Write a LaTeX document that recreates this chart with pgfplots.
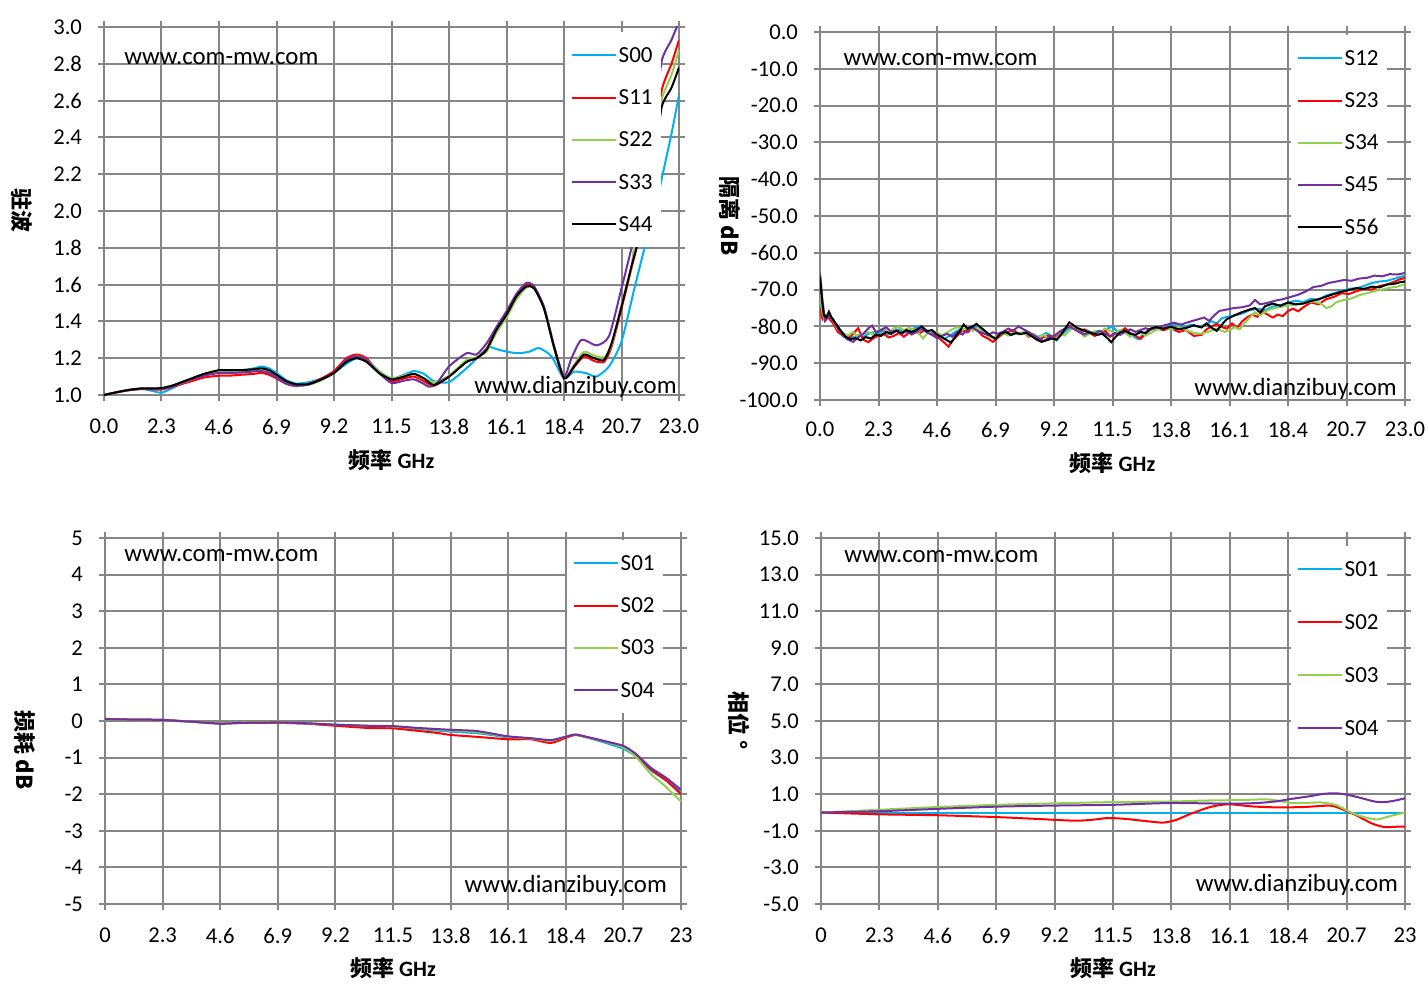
\documentclass[border=0pt]{standalone}
\usepackage{pgfplots}
\pgfplotsset{compat=1.18}
\usepackage{fontspec}
\setmainfont{Carlito}
\newfontfamily\cjk{Noto Sans CJK SC}
\definecolor{gridgray}{RGB}{134,134,134}
\definecolor{cS0}{RGB}{0,176,240}
\definecolor{cS1}{RGB}{255,0,0}
\definecolor{cS2}{RGB}{146,208,80}
\definecolor{cS3}{RGB}{112,48,160}
\pgfplotsset{
  myax/.style={
    scale only axis, anchor=south west,
    xmin=0, xmax=23,
    xtick={0,2.3,4.6,6.9,9.2,11.5,13.8,16.1,18.4,20.7,23},
    grid=major,
    major grid style={gridgray, line width=1pt},
    axis line style={gridgray, line width=1pt},
    every tick/.style={gridgray, line width=1pt},
    tick align=outside, major tick length=3pt,
    tick label style={font=\fontsize{11.3}{13}\selectfont, black},
    xticklabel style={yshift=-5.5pt},
    yticklabel style={xshift=-4.5pt},
    clip mode=individual,
    legend cell align=left,
    legend image code/.code={\draw[##1] (0pt,0pt) -- (22pt,0pt);},
    legend style={at={(1,1)}, anchor=north east, xshift=-9pt, yshift=-2.5pt,
      draw=none, fill=white, font=\fontsize{11.5}{13}\selectfont,
      inner xsep=3pt, inner ysep=6pt,
      nodes={inner sep=1pt, text height=8pt, text depth=1pt}},
    every axis plot/.append style={line width=1pt},
  },
}
\tikzset{
  wm/.style={font=\fontsize{12.4}{14}\selectfont, inner sep=0pt},
  ylab/.style={font=\cjk\bfseries\fontsize{11}{13}\selectfont, rotate=-90},
  xlab/.style={font=\fontsize{11}{13}\selectfont},
}
\newcommand\xlabtext{{\cjk\bfseries 频率} \textbf{GHz}}
\begin{document}
\begin{tikzpicture}
\useasboundingbox (0,0) rectangle (714pt,499pt);
% ---------------- top left: VSWR
\begin{axis}[myax, at={(52pt,301.5pt)}, width=287.5pt, height=184pt,
  ymin=1, ymax=3,
  ytick={1,1.2,1.4,1.6,1.8,2,2.2,2.4,2.6,2.8,3},
  yticklabels={1.0,1.2,1.4,1.6,1.8,2.0,2.2,2.4,2.6,2.8,3.0},
  xticklabels={0.0,2.3,4.6,6.9,9.2,11.5,13.8,16.1,18.4,20.7,23.0},
  every axis plot/.append style={smooth, tension=0.4},
  legend style={row sep=10.1pt, yshift=0pt}]
\addplot[cS0] coordinates {(0,1.000)(0.5,1.015)(1,1.028)(1.5,1.034)(2,1.020)(2.3,1.012)(2.7,1.035)(3,1.055)(3.5,1.085)(4,1.11)(4.6,1.13)(5,1.13)(5.5,1.135)(6,1.145)(6.3,1.155)(6.6,1.145)(6.9,1.12)(7.3,1.08)(7.7,1.062)(8.2,1.07)(8.7,1.09)(9.2,1.12)(9.7,1.17)(10.1,1.20)(10.5,1.19)(11,1.13)(11.5,1.09)(12,1.11)(12.4,1.13)(12.8,1.115)(13.2,1.075)(13.8,1.07)(14.5,1.145)(15.0,1.21)(15.4,1.26)(15.8,1.245)(16.5,1.227)(17.0,1.235)(17.4,1.255)(17.9,1.21)(18.4,1.09)(18.8,1.127)(19.3,1.118)(19.7,1.10)(20.2,1.155)(20.7,1.29)(21.2,1.57)(21.7,1.84)(22.0,1.98)(22.3,2.17)(22.7,2.42)(23,2.63)};
\addlegendentry{S00}
\addplot[cS1] coordinates {(0,1.000)(0.5,1.015)(1,1.026)(1.5,1.032)(2,1.030)(2.3,1.030)(2.7,1.042)(3,1.055)(3.5,1.075)(4,1.095)(4.6,1.105)(5,1.105)(5.5,1.11)(6,1.115)(6.3,1.12)(6.6,1.11)(6.9,1.09)(7.3,1.06)(7.7,1.048)(8.2,1.06)(8.7,1.09)(9.2,1.13)(9.7,1.20)(10.1,1.22)(10.5,1.20)(11,1.12)(11.5,1.075)(12,1.09)(12.4,1.10)(12.8,1.075)(13.2,1.05)(13.8,1.10)(14.5,1.18)(14.9,1.20)(15.3,1.25)(15.7,1.36)(16.1,1.44)(16.5,1.54)(16.9,1.60)(17.2,1.59)(17.6,1.47)(18.0,1.26)(18.4,1.09)(18.8,1.15)(19.2,1.21)(19.6,1.185)(20.0,1.18)(20.3,1.26)(20.7,1.47)(21.1,1.69)(21.3,1.80)(21.6,1.98)(22.0,2.30)(22.3,2.65)(22.7,2.80)(23,2.93)};
\addlegendentry{S11}
\addplot[cS2] coordinates {(0,1.000)(0.5,1.016)(1,1.028)(1.5,1.036)(2,1.036)(2.3,1.036)(2.7,1.048)(3,1.06)(3.5,1.085)(4,1.11)(4.6,1.125)(5,1.128)(5.5,1.13)(6,1.135)(6.3,1.14)(6.6,1.13)(6.9,1.10)(7.3,1.065)(7.7,1.05)(8.2,1.055)(8.7,1.08)(9.2,1.12)(9.7,1.185)(10.1,1.21)(10.5,1.19)(11,1.13)(11.5,1.09)(12,1.105)(12.4,1.115)(12.8,1.09)(13.2,1.07)(13.8,1.105)(14.5,1.19)(14.9,1.205)(15.3,1.235)(15.7,1.34)(16.1,1.42)(16.5,1.52)(16.9,1.585)(17.2,1.585)(17.6,1.47)(18.0,1.26)(18.4,1.09)(18.8,1.165)(19.2,1.235)(19.6,1.215)(20.0,1.205)(20.3,1.27)(20.7,1.49)(21.1,1.70)(21.2,1.80)(21.6,2.00)(22.0,2.28)(22.3,2.60)(22.7,2.74)(23,2.875)};
\addlegendentry{S22}
\addplot[cS3] coordinates {(0,1.000)(0.5,1.014)(1,1.026)(1.5,1.033)(2,1.033)(2.3,1.034)(2.7,1.045)(3,1.06)(3.5,1.085)(4,1.105)(4.6,1.12)(5,1.12)(5.5,1.122)(6,1.128)(6.3,1.13)(6.6,1.12)(6.9,1.095)(7.3,1.062)(7.7,1.05)(8.2,1.058)(8.7,1.085)(9.2,1.12)(9.7,1.19)(10.1,1.21)(10.5,1.19)(11,1.12)(11.5,1.065)(12,1.078)(12.4,1.085)(12.8,1.06)(13.0,1.045)(13.3,1.06)(13.8,1.155)(14.5,1.227)(14.9,1.22)(15.3,1.28)(15.7,1.37)(16.1,1.455)(16.5,1.55)(16.9,1.61)(17.2,1.59)(17.6,1.48)(18.0,1.27)(18.4,1.10)(18.7,1.20)(19.1,1.30)(19.7,1.27)(20.2,1.32)(20.7,1.58)(21.1,1.80)(21.6,2.10)(22.0,2.45)(22.3,2.81)(22.7,2.93)(23,3.03)};
\addlegendentry{S33}
\addplot[black] coordinates {(0,1.000)(0.5,1.015)(1,1.028)(1.5,1.036)(2,1.036)(2.3,1.038)(2.7,1.05)(3,1.065)(3.5,1.09)(4,1.115)(4.6,1.135)(5,1.135)(5.5,1.135)(6,1.14)(6.3,1.145)(6.6,1.135)(6.9,1.11)(7.3,1.075)(7.7,1.058)(8.2,1.06)(8.7,1.085)(9.2,1.12)(9.7,1.18)(10.1,1.20)(10.5,1.18)(11,1.12)(11.5,1.085)(12,1.10)(12.4,1.115)(12.8,1.09)(13.2,1.055)(13.8,1.10)(14.5,1.18)(14.9,1.20)(15.3,1.245)(15.7,1.355)(16.1,1.436)(16.5,1.536)(16.9,1.59)(17.2,1.58)(17.6,1.47)(18.0,1.26)(18.4,1.09)(18.8,1.155)(19.2,1.22)(19.6,1.20)(20.0,1.19)(20.3,1.28)(20.7,1.48)(21.1,1.70)(21.3,1.80)(21.6,1.96)(22.0,2.22)(22.3,2.56)(22.7,2.67)(23,2.78)};
\addlegendentry{S44}
\node[wm] at (rel axis cs:0.204,0.913) {www.com-mw.com};
\node[wm] at (rel axis cs:0.82,0.021) {www.dianzibuy.com};
\node[ylab] at (axis description cs:-0.143,0.5) {驻波};
\node[xlab] at (axis description cs:0.5,0) [yshift=-32.5pt] {\xlabtext};
\end{axis}
% ---------------- top right: isolation
\begin{axis}[myax, at={(410pt,299pt)}, width=292.5pt, height=184pt,
  ymin=-100, ymax=0,
  ytick={-100,-90,-80,-70,-60,-50,-40,-30,-20,-10,0},
  yticklabels={-100.0,-90.0,-80.0,-70.0,-60.0,-50.0,-40.0,-30.0,-20.0,-10.0,0.0},
  xticklabels={0.0,2.3,4.6,6.9,9.2,11.5,13.8,16.1,18.4,20.7,23.0},
  xticklabel style={yshift=1pt},
  legend style={row sep=10.1pt, yshift=1pt}]
\addplot[cS0] coordinates {(0,-72.5)(0.1,-77)(0.2,-78)(0.35,-76.5)(0.5,-78.5)(0.7,-80.5)(0.9,-82.0)(1.1,-82.6)(1.3,-83.0)(1.5,-82.4)(1.7,-82.8)(1.9,-82.0)(2.1,-81.6)(2.3,-81.9)(2.5,-81.2)(2.7,-82.2)(2.9,-81.5)(3.1,-80.8)(3.3,-81.6)(3.5,-81.2)(3.7,-80.5)(3.9,-80.0)(4.1,-80.8)(4.3,-81.4)(4.5,-82.0)(4.7,-82.6)(4.9,-83.4)(5.1,-82.5)(5.3,-81.6)(5.5,-80.8)(5.7,-81.3)(5.9,-80.5)(6.1,-80.2)(6.3,-81.0)(6.5,-81.8)(6.7,-82.9)(6.9,-83.0)(7.1,-82.2)(7.3,-81.7)(7.5,-82.4)(7.7,-81.9)(7.9,-82.0)(8.1,-81.5)(8.3,-82.4)(8.5,-83.0)(8.7,-82.5)(8.9,-81.8)(9.1,-82.6)(9.3,-83.8)(9.5,-82.2)(9.7,-81.0)(9.9,-80.2)(10.1,-80.8)(10.3,-81.6)(10.5,-81.0)(10.7,-81.8)(10.9,-81.3)(11.1,-81.9)(11.3,-80.6)(11.5,-80.0)(11.7,-81.5)(11.9,-81.0)(12.1,-82.0)(12.3,-82.6)(12.5,-83.5)(12.7,-82.2)(12.9,-81.0)(13.1,-80.4)(13.4,-80.9)(13.7,-80.0)(14.0,-79.2)(14.3,-80.2)(14.6,-79.5)(14.9,-80.1)(15.2,-79.4)(15.4,-78.6)(15.6,-79.2)(15.8,-77.8)(16.0,-77.4)(16.3,-77.0)(16.6,-76.5)(16.9,-75.6)(17.2,-75.2)(17.5,-75.6)(17.8,-74.6)(18.1,-74.2)(18.4,-73.6)(18.7,-73.0)(19.0,-73.4)(19.3,-72.5)(19.6,-72.8)(19.9,-71.6)(20.2,-71.0)(20.5,-70.5)(20.8,-69.8)(21.1,-69.6)(21.4,-69.0)(21.7,-68.2)(22.0,-67.8)(22.3,-67.6)(22.6,-67.0)(22.8,-66.6)(23.0,-66.2)};
\addlegendentry{S12}
\addplot[cS1] coordinates {(0,-75)(0.1,-78)(0.2,-77)(0.35,-77.8)(0.5,-79)(0.7,-81.5)(0.9,-82.5)(1.1,-83.5)(1.3,-82.0)(1.5,-80.5)(1.7,-83.6)(1.9,-84.3)(2.1,-83.2)(2.3,-82.5)(2.5,-82.0)(2.7,-83.0)(2.9,-82.6)(3.1,-81.8)(3.3,-82.8)(3.5,-81.7)(3.7,-81.2)(3.9,-82.0)(4.1,-81.0)(4.3,-81.8)(4.5,-82.5)(4.7,-83.3)(4.9,-84.5)(5.05,-85.5)(5.2,-84.0)(5.4,-82.5)(5.6,-81.0)(5.8,-81.6)(6.0,-80.5)(6.2,-81.2)(6.4,-82.6)(6.6,-83.3)(6.8,-84.2)(7.0,-83.0)(7.2,-82.0)(7.4,-81.5)(7.6,-81.0)(7.8,-82.0)(8.0,-81.6)(8.2,-82.8)(8.4,-82.3)(8.6,-83.6)(8.8,-82.9)(9.0,-82.5)(9.2,-83.0)(9.4,-82.0)(9.6,-81.0)(9.8,-79.8)(10.0,-80.5)(10.2,-81.3)(10.4,-80.8)(10.6,-81.8)(10.8,-82.6)(11.0,-81.9)(11.2,-81.0)(11.4,-82.8)(11.6,-82.0)(11.8,-81.5)(12.0,-80.5)(12.2,-81.8)(12.4,-82.5)(12.6,-83.4)(12.8,-82.0)(13.0,-80.8)(13.2,-80.3)(13.5,-81.0)(13.8,-80.5)(14.1,-81.5)(14.4,-81.0)(14.7,-82.6)(15.0,-82.3)(15.2,-80.8)(15.4,-80.0)(15.6,-79.3)(15.8,-80.2)(16.0,-80.6)(16.2,-79.2)(16.4,-80.4)(16.6,-78.6)(16.8,-77.5)(17.0,-76.8)(17.2,-77.4)(17.4,-76.0)(17.6,-76.8)(17.8,-77.6)(18.0,-76.8)(18.2,-77.2)(18.4,-75.8)(18.6,-75.2)(18.8,-75.9)(19.0,-74.8)(19.3,-73.5)(19.6,-74.0)(19.9,-72.6)(20.2,-72.0)(20.5,-71.0)(20.8,-71.2)(21.1,-70.4)(21.4,-69.8)(21.7,-70.0)(22.0,-69.0)(22.3,-68.6)(22.6,-67.8)(22.8,-67.2)(23.0,-66.8)};
\addlegendentry{S23}
\addplot[cS2] coordinates {(0,-71)(0.1,-76.5)(0.2,-78.5)(0.35,-77.0)(0.5,-78.2)(0.7,-80.8)(0.9,-81.8)(1.1,-82.5)(1.3,-81.5)(1.5,-82.8)(1.7,-82.0)(1.9,-81.5)(2.1,-82.3)(2.3,-81.0)(2.5,-80.6)(2.7,-81.8)(2.9,-80.5)(3.1,-80.2)(3.3,-81.0)(3.5,-80.4)(3.7,-80.9)(3.9,-82.0)(4.05,-83.3)(4.2,-82.0)(4.4,-81.2)(4.6,-81.7)(4.8,-82.4)(5.0,-81.6)(5.2,-80.8)(5.4,-80.2)(5.6,-80.9)(5.8,-80.4)(6.0,-81.2)(6.2,-80.5)(6.4,-81.6)(6.6,-82.3)(6.8,-83.2)(7.0,-82.6)(7.2,-81.8)(7.4,-82.5)(7.6,-81.6)(7.8,-82.2)(8.0,-81.5)(8.2,-82.6)(8.4,-82.0)(8.6,-83.0)(8.8,-82.3)(9.0,-83.5)(9.2,-82.6)(9.4,-81.8)(9.6,-82.5)(9.8,-81.2)(10.0,-80.0)(10.2,-81.5)(10.4,-82.8)(10.6,-82.0)(10.8,-81.3)(11.0,-81.8)(11.2,-80.6)(11.4,-81.2)(11.6,-81.9)(11.8,-81.0)(12.0,-81.8)(12.2,-82.8)(12.4,-82.2)(12.6,-81.6)(12.8,-82.5)(13.0,-81.8)(13.2,-81.0)(13.5,-80.3)(13.8,-80.8)(14.1,-80.2)(14.4,-81.0)(14.7,-81.8)(15.0,-82.0)(15.3,-81.4)(15.6,-80.6)(15.9,-81.5)(16.1,-81.0)(16.3,-80.2)(16.5,-80.8)(16.7,-79.0)(16.9,-77.6)(17.1,-76.2)(17.3,-77.0)(17.6,-75.6)(17.9,-75.0)(18.2,-74.6)(18.5,-74.2)(18.8,-74.0)(19.1,-73.6)(19.4,-73.2)(19.7,-73.8)(19.9,-75.0)(20.1,-74.6)(20.3,-73.4)(20.6,-72.8)(20.9,-72.4)(21.2,-71.5)(21.5,-71.0)(21.8,-70.4)(22.1,-70.0)(22.4,-69.5)(22.7,-69.2)(23.0,-68.5)};
\addlegendentry{S34}
\addplot[cS3] coordinates {(0,-65.5)(0.1,-73)(0.2,-78.5)(0.35,-77.2)(0.5,-78.0)(0.7,-80.5)(0.9,-82.5)(1.1,-83.6)(1.3,-84.2)(1.5,-83.0)(1.7,-82.0)(1.9,-80.5)(2.05,-79.8)(2.2,-81.6)(2.4,-81.0)(2.6,-80.2)(2.8,-81.5)(3.0,-81.0)(3.2,-82.0)(3.4,-81.3)(3.6,-82.2)(3.8,-81.5)(4.0,-80.7)(4.2,-81.6)(4.4,-82.3)(4.6,-83.2)(4.8,-82.6)(5.0,-82.0)(5.2,-82.8)(5.4,-81.6)(5.6,-82.2)(5.8,-81.0)(6.0,-80.2)(6.2,-81.3)(6.4,-81.8)(6.6,-82.4)(6.8,-81.6)(7.0,-82.0)(7.2,-81.4)(7.4,-80.6)(7.6,-81.2)(7.8,-80.0)(8.0,-80.8)(8.2,-81.5)(8.4,-82.4)(8.6,-83.2)(8.8,-84.0)(9.0,-83.0)(9.2,-82.6)(9.4,-81.5)(9.6,-80.7)(9.8,-80.0)(10.0,-80.8)(10.2,-81.6)(10.4,-82.2)(10.6,-81.5)(10.8,-82.0)(11.0,-81.2)(11.2,-82.0)(11.4,-82.6)(11.6,-81.8)(11.8,-82.3)(12.0,-81.4)(12.2,-80.8)(12.4,-81.5)(12.6,-81.0)(12.8,-80.5)(13.0,-80.9)(13.3,-80.2)(13.6,-79.6)(13.9,-79.0)(14.2,-79.5)(14.5,-78.8)(14.8,-78.2)(15.1,-77.6)(15.3,-78.5)(15.5,-77.0)(15.7,-75.8)(16.0,-75.4)(16.3,-75.0)(16.6,-74.8)(16.9,-74.3)(17.1,-72.8)(17.3,-74.0)(17.6,-73.6)(17.9,-73.0)(18.2,-72.6)(18.5,-72.0)(18.8,-71.4)(19.1,-70.5)(19.4,-69.3)(19.7,-69.0)(20.0,-68.2)(20.3,-67.8)(20.6,-67.4)(20.9,-67.6)(21.2,-67.0)(21.5,-66.8)(21.8,-66.2)(22.1,-66.4)(22.4,-65.8)(22.7,-65.9)(23.0,-65.5)};
\addlegendentry{S45}
\addplot[black] coordinates {(0,-66.5)(0.08,-73)(0.15,-77)(0.25,-77.5)(0.35,-76)(0.45,-77.5)(0.6,-79)(0.8,-81)(1.0,-82.8)(1.2,-83.5)(1.4,-83.2)(1.6,-83.8)(1.8,-82.9)(2.0,-83.3)(2.2,-82.2)(2.4,-82.6)(2.6,-81.5)(2.8,-82.0)(3.0,-81.2)(3.2,-81.8)(3.4,-81.0)(3.6,-81.6)(3.8,-80.9)(4.0,-80.0)(4.2,-81.3)(4.4,-81.0)(4.6,-82.2)(4.8,-83.0)(5.0,-83.8)(5.15,-84.4)(5.3,-83.0)(5.5,-81.2)(5.65,-79.5)(5.8,-80.6)(6.0,-80.0)(6.15,-79.3)(6.3,-80.2)(6.5,-81.3)(6.7,-82.5)(6.9,-83.4)(7.1,-82.0)(7.3,-81.5)(7.5,-82.3)(7.7,-81.8)(7.9,-82.1)(8.1,-81.7)(8.3,-82.6)(8.5,-83.5)(8.7,-84.2)(8.9,-83.8)(9.1,-83.3)(9.3,-83.6)(9.5,-82.0)(9.65,-80.5)(9.8,-78.9)(9.95,-79.6)(10.1,-80.4)(10.3,-80.9)(10.5,-81.5)(10.7,-81.9)(10.9,-82.3)(11.1,-82.0)(11.3,-83.2)(11.45,-84.3)(11.6,-83.0)(11.8,-81.6)(12.0,-81.2)(12.2,-82.0)(12.4,-82.3)(12.6,-81.5)(12.8,-81.8)(13.0,-80.6)(13.2,-80.2)(13.5,-80.6)(13.8,-80.1)(14.1,-80.8)(14.4,-80.4)(14.7,-79.7)(15.0,-80.3)(15.2,-79.2)(15.4,-80.4)(15.6,-81.2)(15.8,-79.5)(16.0,-78.0)(16.3,-77.0)(16.6,-76.1)(16.9,-75.4)(17.1,-75.0)(17.3,-76.2)(17.5,-74.5)(17.8,-73.8)(18.1,-74.4)(18.4,-73.5)(18.7,-74.0)(19.0,-73.8)(19.3,-73.1)(19.6,-72.6)(19.9,-71.9)(20.2,-71.2)(20.5,-70.6)(20.8,-70.1)(21.1,-69.6)(21.4,-69.8)(21.7,-69.2)(22.0,-69.4)(22.3,-68.6)(22.6,-68.4)(22.8,-68.0)(23.0,-67.8)};
\addlegendentry{S56}
\node[wm] at (rel axis cs:0.206,0.926) {www.com-mw.com};
\node[wm] at (rel axis cs:0.813,0.03) {www.dianzibuy.com};
\node[ylab] at (axis description cs:-0.154,0.5) {隔离 dB};
\node[xlab] at (axis description cs:0.5,0) [yshift=-31.5pt] {\xlabtext};
\end{axis}
% ---------------- bottom left: insertion loss
\begin{axis}[myax, at={(52.5pt,47pt)}, width=288pt, height=183pt,
  ymin=-5, ymax=5,
  ytick={-5,-4,-3,-2,-1,0,1,2,3,4,5},
  yticklabels={-5,-4,-3,-2,-1,0,1,2,3,4,5},
  xticklabels={0,2.3,4.6,6.9,9.2,11.5,13.8,16.1,18.4,20.7,23},
  every axis plot/.append style={smooth, tension=0.4},
  legend style={row sep=10.1pt, yshift=1.5pt}]
\addplot[cS0] coordinates {(0,0.04)(1,0.04)(2.3,0.03)(3,0.0)(3.5,-0.02)(4.6,-0.07)(5.5,-0.05)(6.9,-0.05)(8,-0.07)(9.2,-0.11)(10.5,-0.14)(11.5,-0.16)(12.5,-0.22)(13.8,-0.29)(14.8,-0.33)(15.5,-0.39)(16.1,-0.45)(17.0,-0.48)(17.8,-0.54)(18.4,-0.44)(18.8,-0.38)(19.4,-0.48)(20.0,-0.6)(20.7,-0.76)(21.2,-0.97)(21.8,-1.35)(22.4,-1.62)(23,-1.95)};
\addlegendentry{S01}
\addplot[cS1] coordinates {(0,0.06)(1,0.04)(2.3,0.03)(3,0.0)(3.5,-0.02)(4.6,-0.07)(5.5,-0.05)(6.9,-0.05)(8,-0.07)(9.2,-0.13)(10.5,-0.19)(11.5,-0.2)(12.5,-0.27)(13.2,-0.32)(13.8,-0.38)(14.8,-0.43)(16.1,-0.5)(17.0,-0.5)(17.8,-0.6)(18.4,-0.46)(18.8,-0.38)(19.4,-0.47)(20.0,-0.56)(20.7,-0.7)(21.2,-0.92)(21.8,-1.32)(22.4,-1.62)(23,-2.0)};
\addlegendentry{S02}
\addplot[cS2] coordinates {(0,0.04)(1,0.04)(2.3,0.03)(3,0.0)(3.5,-0.02)(4.6,-0.06)(5.5,-0.04)(6.9,-0.04)(8,-0.06)(9.2,-0.1)(10.5,-0.13)(11.5,-0.15)(12.5,-0.2)(13.8,-0.26)(14.8,-0.3)(15.5,-0.37)(16.1,-0.43)(17.0,-0.48)(17.8,-0.54)(18.4,-0.43)(18.8,-0.37)(19.4,-0.47)(20.0,-0.57)(20.7,-0.72)(21.2,-0.98)(21.8,-1.45)(22.4,-1.8)(23,-2.2)};
\addlegendentry{S03}
\addplot[cS3] coordinates {(0,0.05)(1,0.04)(2.3,0.03)(3,0.0)(3.5,-0.02)(4.6,-0.07)(5.5,-0.05)(6.9,-0.04)(8,-0.06)(9.2,-0.1)(10.5,-0.13)(11.5,-0.14)(12.5,-0.19)(13.8,-0.24)(14.8,-0.27)(15.5,-0.35)(16.1,-0.42)(17.0,-0.47)(17.8,-0.52)(18.4,-0.43)(18.8,-0.37)(19.4,-0.46)(20.0,-0.56)(20.7,-0.68)(21.2,-0.9)(21.8,-1.28)(22.4,-1.55)(23,-1.88)};
\addlegendentry{S04}
\node[wm] at (rel axis cs:0.202,0.951) {www.com-mw.com};
\node[wm] at (rel axis cs:0.80,0.049) {www.dianzibuy.com};
\node[ylab] at (axis description cs:-0.139,0.42) {损耗 dB};
\node[xlab] at (axis description cs:0.5,0) [yshift=-32pt] {\xlabtext};
\end{axis}
% ---------------- bottom right: phase
\begin{axis}[myax, at={(410.5pt,47pt)}, width=292pt, height=183pt,
  ymin=-5, ymax=15,
  ytick={-5,-3,-1,1,3,5,7,9,11,13,15},
  yticklabels={-5.0,-3.0,-1.0,1.0,3.0,5.0,7.0,9.0,11.0,13.0,15.0},
  xticklabels={0,2.3,4.6,6.9,9.2,11.5,13.8,16.1,18.4,20.7,23},
  every axis plot/.append style={smooth, tension=0.4},
  legend style={row sep=15.5pt, yshift=-1.5pt}]
\addplot[cS0] coordinates {(0,0)(5,0)(10,0)(15,0)(20,0)(23,0)};
\addlegendentry{S01}
\addplot[cS1] coordinates {(0,0)(2.3,-0.1)(4.6,-0.15)(6.9,-0.25)(8.5,-0.35)(9.2,-0.4)(10.1,-0.45)(10.8,-0.38)(11.3,-0.3)(12.0,-0.35)(13.0,-0.5)(13.5,-0.55)(14.0,-0.4)(14.5,-0.1)(14.8,0.05)(15.2,0.25)(15.6,0.38)(16.1,0.45)(17.0,0.33)(18.0,0.28)(19.0,0.3)(20.0,0.38)(20.3,0.3)(21.0,-0.1)(21.7,-0.6)(22.2,-0.8)(22.6,-0.78)(23,-0.77)};
\addlegendentry{S02}
\addplot[cS2] coordinates {(0,0)(2.3,0.15)(4.6,0.3)(6.9,0.42)(9.2,0.5)(11.5,0.57)(13.8,0.6)(15,0.65)(16.5,0.68)(17.5,0.72)(18.0,0.65)(18.5,0.52)(19.2,0.53)(19.7,0.55)(20.3,0.4)(20.8,0.05)(21.3,-0.22)(21.9,-0.38)(22.4,-0.2)(23,0.0)};
\addlegendentry{S03}
\addplot[cS3] coordinates {(0,0)(2.3,0.07)(4.6,0.2)(6.9,0.32)(9.2,0.38)(11.5,0.42)(13.8,0.52)(16.1,0.48)(17.2,0.52)(18.0,0.62)(18.4,0.72)(19.2,0.88)(19.8,1.02)(20.3,1.05)(20.8,0.95)(21.3,0.78)(21.8,0.6)(22.2,0.57)(22.6,0.65)(23,0.78)};
\addlegendentry{S04}
\node[wm] at (rel axis cs:0.206,0.948) {www.com-mw.com};
\node[wm] at (rel axis cs:0.815,0.052) {www.dianzibuy.com};
\node[ylab] at (axis description cs:-0.14,0.5) {相位 °};
\node[xlab] at (axis description cs:0.5,0) [yshift=-32pt] {\xlabtext};
\end{axis}
\end{tikzpicture}
\end{document}
